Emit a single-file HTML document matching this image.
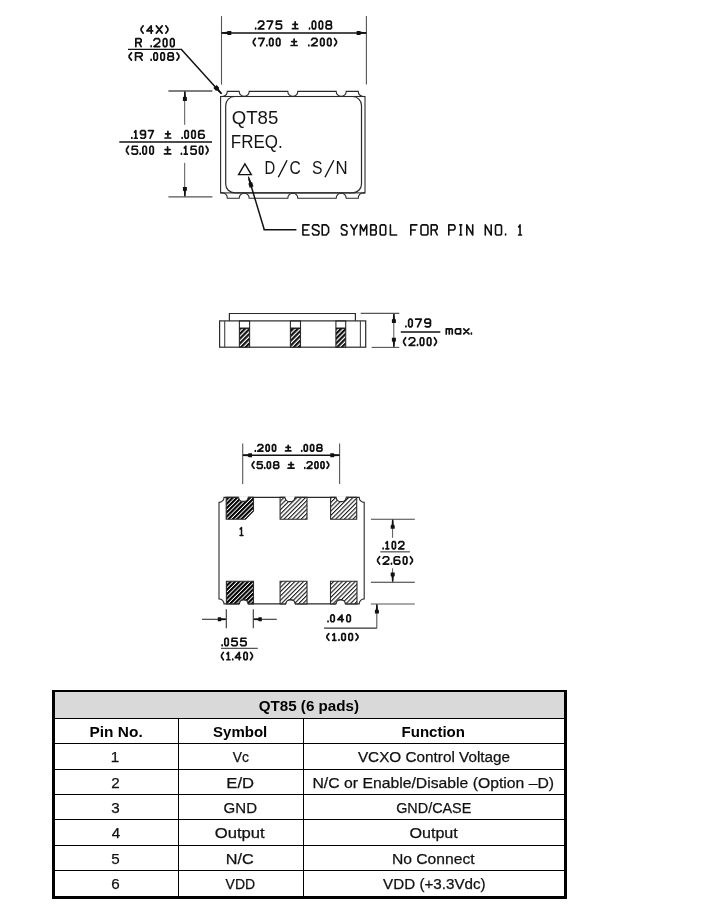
<!DOCTYPE html>
<html><head><meta charset="utf-8"><style>
html,body{margin:0;padding:0;background:#fff;}
body{width:709px;height:911px;overflow:hidden;}
svg{display:block;will-change:transform;}
.ar{font-family:"Liberation Sans",sans-serif;fill:#141414;}
.tr{font-family:"Liberation Sans",sans-serif;fill:#111;stroke:#111;stroke-width:0.25px;}
.tb{font-family:"Liberation Sans",sans-serif;font-weight:bold;fill:#000;}
</style></head><body>
<svg width="709" height="911" viewBox="0 0 709 911">
<defs>
<pattern id="hl" patternUnits="userSpaceOnUse" width="3.05" height="3.05" patternTransform="rotate(45)"><rect width="3.05" height="3.05" fill="#fff"/><rect x="0" y="0" width="1.1" height="3.05" fill="#1a1a1a"/></pattern>
<pattern id="hd" patternUnits="userSpaceOnUse" width="3.05" height="3.05" patternTransform="rotate(45)"><rect width="3.05" height="3.05" fill="#fff"/><rect x="0" y="0" width="2.1" height="3.05" fill="#000"/></pattern>
<pattern id="hs" patternUnits="userSpaceOnUse" width="3.4" height="3.4" patternTransform="rotate(45)"><rect width="3.4" height="3.4" fill="#fff"/><rect x="0" y="0" width="2.2" height="3.4" fill="#111"/></pattern>
</defs>
<line x1="221.50" y1="16.10" x2="221.50" y2="84.60" stroke="#555" stroke-width="1.10"/>
<line x1="366.40" y1="16.10" x2="366.40" y2="84.60" stroke="#555" stroke-width="1.10"/>
<line x1="221.50" y1="32.90" x2="366.40" y2="32.90" stroke="#111" stroke-width="1.50"/>
<polygon points="221.80,32.20 227.03,31.85 227.69,30.90 231.30,30.90 231.30,34.90 227.69,34.90 227.03,33.95 221.80,33.60" fill="#111"/>
<polygon points="366.10,33.60 360.88,33.95 360.21,34.90 356.60,34.90 356.60,30.90 360.21,30.90 360.88,31.85 366.10,32.20" fill="#111"/>
<path d="M255.62,28.17 L255.62,28.95 M258.28,22.71 L259.38,21.15 L262.68,21.15 L263.78,22.45 L263.78,24.27 L258.28,28.95 L263.78,28.95 M267.17,21.15 L272.66,21.15 L269.00,28.95 M281.37,21.15 L276.60,21.15 L276.24,24.62 L277.15,24.10 L280.45,24.10 L281.55,25.14 L281.55,27.91 L280.45,28.95 L277.15,28.95 L276.05,27.91" fill="none" stroke="#111" stroke-width="1.70" stroke-linejoin="round" stroke-linecap="round"/>
<path d="M295.15,21.84 L295.15,27.04 M292.99,24.44 L297.31,24.44 M292.45,28.69 L297.85,28.69" fill="none" stroke="#111" stroke-width="1.70" stroke-linejoin="round" stroke-linecap="round"/>
<path d="M309.53,28.17 L309.53,28.95 M313.12,21.15 L314.78,21.15 L315.70,22.54 L315.70,27.56 L314.78,28.95 L313.12,28.95 L312.20,27.56 L312.20,22.54 Z M320.03,21.15 L321.69,21.15 L322.61,22.54 L322.61,27.56 L321.69,28.95 L320.03,28.95 L319.11,27.56 L319.11,22.54 Z M327.13,24.96 L326.30,24.10 L326.30,22.10 L327.22,21.15 L330.35,21.15 L331.27,22.10 L331.27,24.10 L330.44,24.96 L327.13,24.96 L326.02,26.00 L326.02,27.91 L327.13,28.95 L330.44,28.95 L331.55,27.91 L331.55,26.00 L330.44,24.96" fill="none" stroke="#111" stroke-width="1.70" stroke-linejoin="round" stroke-linecap="round"/>
<path d="M255.26,38.45 L253.33,41.21 L253.33,42.99 L255.26,45.75 M258.67,38.45 L264.20,38.45 L260.51,45.75 M266.87,45.02 L266.87,45.75 M270.46,38.45 L272.12,38.45 L273.04,39.75 L273.04,44.45 L272.12,45.75 L270.46,45.75 L269.54,44.45 L269.54,39.75 Z M277.37,38.45 L279.03,38.45 L279.95,39.75 L279.95,44.45 L279.03,45.75 L277.37,45.75 L276.45,44.45 L276.45,39.75 Z" fill="none" stroke="#111" stroke-width="1.70" stroke-linejoin="round" stroke-linecap="round"/>
<path d="M294.10,39.10 L294.10,43.97 M291.66,41.53 L296.54,41.53 M291.05,45.51 L297.15,45.51" fill="none" stroke="#111" stroke-width="1.70" stroke-linejoin="round" stroke-linecap="round"/>
<path d="M308.83,45.02 L308.83,45.75 M311.53,39.91 L312.65,38.45 L316.00,38.45 L317.11,39.67 L317.11,41.37 L311.53,45.75 L317.11,45.75 M321.49,38.45 L323.16,38.45 L324.09,39.75 L324.09,44.45 L323.16,45.75 L321.49,45.75 L320.56,44.45 L320.56,39.75 Z M328.47,38.45 L330.14,38.45 L331.07,39.75 L331.07,44.45 L330.14,45.75 L328.47,45.75 L327.54,44.45 L327.54,39.75 Z M334.52,38.45 L336.47,41.21 L336.47,42.99 L334.52,45.75" fill="none" stroke="#111" stroke-width="1.70" stroke-linejoin="round" stroke-linecap="round"/>
<path d="M143.20,25.85 L141.14,28.61 L141.14,30.39 L143.20,33.15 M151.22,33.15 L151.22,25.85 L146.82,30.96 L152.69,30.96 M156.31,25.85 L162.18,33.15 M162.18,25.85 L156.31,33.15 M165.80,25.85 L167.86,28.61 L167.86,30.39 L165.80,33.15" fill="none" stroke="#111" stroke-width="1.70" stroke-linejoin="round" stroke-linecap="round"/>
<path d="M135.85,46.55 L135.85,38.65 L140.09,38.65 L141.15,39.70 L141.15,41.55 L140.09,42.60 L135.85,42.60 M138.94,42.60 L141.15,46.55" fill="none" stroke="#111" stroke-width="1.70" stroke-linejoin="round" stroke-linecap="round"/>
<path d="M151.14,45.76 L151.14,46.55 M153.93,40.23 L155.09,38.65 L158.55,38.65 L159.71,39.97 L159.71,41.81 L153.93,46.55 L159.71,46.55 M164.23,38.65 L165.97,38.65 L166.93,40.05 L166.93,45.15 L165.97,46.55 L164.23,46.55 L163.27,45.15 L163.27,40.05 Z M171.45,38.65 L173.19,38.65 L174.15,40.05 L174.15,45.15 L173.19,46.55 L171.45,46.55 L170.49,45.15 L170.49,40.05 Z" fill="none" stroke="#111" stroke-width="1.70" stroke-linejoin="round" stroke-linecap="round"/>
<line x1="128.00" y1="49.30" x2="181.00" y2="49.30" stroke="#111" stroke-width="1.20"/>
<path d="M131.49,52.85 L129.18,55.61 L129.18,57.39 L131.49,60.15 M135.55,60.15 L135.55,52.85 L140.83,52.85 L142.15,53.82 L142.15,55.53 L140.83,56.50 L135.55,56.50 M139.40,56.50 L142.15,60.15" fill="none" stroke="#111" stroke-width="1.70" stroke-linejoin="round" stroke-linecap="round"/>
<path d="M151.13,59.42 L151.13,60.15 M154.77,52.85 L156.45,52.85 L157.39,54.15 L157.39,58.85 L156.45,60.15 L154.77,60.15 L153.84,58.85 L153.84,54.15 Z M161.78,52.85 L163.46,52.85 L164.39,54.15 L164.39,58.85 L163.46,60.15 L161.78,60.15 L160.84,58.85 L160.84,54.15 Z M168.97,56.42 L168.13,55.61 L168.13,53.74 L169.06,52.85 L172.24,52.85 L173.17,53.74 L173.17,55.61 L172.33,56.42 L168.97,56.42 L167.85,57.39 L167.85,59.18 L168.97,60.15 L172.33,60.15 L173.45,59.18 L173.45,57.39 L172.33,56.42 M176.91,52.85 L178.87,55.61 L178.87,57.39 L176.91,60.15" fill="none" stroke="#111" stroke-width="1.70" stroke-linejoin="round" stroke-linecap="round"/>
<line x1="181.00" y1="49.00" x2="221.20" y2="93.40" stroke="#111" stroke-width="1.50"/>
<polygon points="221.26,94.30 217.23,90.53 215.91,90.78 213.35,87.97 216.61,85.01 219.17,87.83 218.78,89.12 222.14,93.50" fill="#111"/>
<line x1="168.40" y1="91.00" x2="212.40" y2="91.00" stroke="#555" stroke-width="1.30"/>
<line x1="168.40" y1="196.80" x2="212.40" y2="196.80" stroke="#555" stroke-width="1.30"/>
<line x1="184.70" y1="91.00" x2="184.70" y2="124.80" stroke="#555" stroke-width="1.00"/>
<line x1="184.70" y1="162.90" x2="184.70" y2="196.80" stroke="#555" stroke-width="1.00"/>
<polygon points="185.60,91.60 185.95,96.71 186.90,97.37 186.90,100.90 182.90,100.90 182.90,97.37 183.85,96.71 184.20,91.60" fill="#111"/>
<polygon points="184.20,196.20 183.85,191.08 182.90,190.43 182.90,186.90 186.90,186.90 186.90,190.43 185.95,191.08 185.60,196.20" fill="#111"/>
<line x1="119.30" y1="142.00" x2="212.00" y2="142.00" stroke="#111" stroke-width="1.50"/>
<path d="M131.80,137.48 L131.80,138.25 M134.50,132.09 L135.81,130.55 L135.81,138.25 M134.42,138.25 L137.20,138.25 M140.89,137.74 L141.63,138.25 L144.25,138.25 L145.40,136.88 L145.40,131.75 L144.42,130.55 L141.47,130.55 L140.48,131.75 L140.48,133.46 L141.47,134.57 L144.42,134.57 L145.40,133.46 M148.43,130.55 L153.35,130.55 L150.07,138.25" fill="none" stroke="#111" stroke-width="1.70" stroke-linejoin="round" stroke-linecap="round"/>
<path d="M167.90,131.23 L167.90,136.37 M165.62,133.80 L170.18,133.80 M165.05,137.99 L170.75,137.99" fill="none" stroke="#111" stroke-width="1.70" stroke-linejoin="round" stroke-linecap="round"/>
<path d="M182.13,137.48 L182.13,138.25 M185.74,130.55 L187.40,130.55 L188.33,131.92 L188.33,136.88 L187.40,138.25 L185.74,138.25 L184.81,136.88 L184.81,131.92 Z M192.68,130.55 L194.35,130.55 L195.27,131.92 L195.27,136.88 L194.35,138.25 L192.68,138.25 L191.75,136.88 L191.75,131.92 Z M203.79,131.06 L202.95,130.55 L199.99,130.55 L198.70,131.92 L198.70,137.05 L199.81,138.25 L203.14,138.25 L204.25,137.05 L204.25,135.34 L203.14,134.23 L199.81,134.23 L198.70,135.34" fill="none" stroke="#111" stroke-width="1.70" stroke-linejoin="round" stroke-linecap="round"/>
<path d="M128.48,146.25 L126.53,149.23 L126.53,151.17 L128.48,154.15 M137.29,146.25 L132.47,146.25 L132.10,149.76 L133.02,149.23 L136.37,149.23 L137.48,150.29 L137.48,153.10 L136.37,154.15 L133.02,154.15 L131.91,153.10 M140.17,153.36 L140.17,154.15 M143.79,146.25 L145.46,146.25 L146.39,147.65 L146.39,152.75 L145.46,154.15 L143.79,154.15 L142.86,152.75 L142.86,147.65 Z M150.75,146.25 L152.42,146.25 L153.35,147.65 L153.35,152.75 L152.42,154.15 L150.75,154.15 L149.82,152.75 L149.82,147.65 Z" fill="none" stroke="#111" stroke-width="1.70" stroke-linejoin="round" stroke-linecap="round"/>
<path d="M167.60,146.95 L167.60,152.22 M165.08,149.59 L170.12,149.59 M164.45,153.89 L170.75,153.89" fill="none" stroke="#111" stroke-width="1.70" stroke-linejoin="round" stroke-linecap="round"/>
<path d="M181.42,153.36 L181.42,154.15 M184.35,147.83 L185.77,146.25 L185.77,154.15 M184.26,154.15 L187.28,154.15 M195.99,146.25 L191.37,146.25 L191.01,149.76 L191.90,149.23 L195.10,149.23 L196.17,150.29 L196.17,153.10 L195.10,154.15 L191.90,154.15 L190.83,153.10 M200.34,146.25 L201.94,146.25 L202.83,147.65 L202.83,152.75 L201.94,154.15 L200.34,154.15 L199.45,152.75 L199.45,147.65 Z M206.12,146.25 L207.98,149.23 L207.98,151.17 L206.12,154.15" fill="none" stroke="#111" stroke-width="1.70" stroke-linejoin="round" stroke-linecap="round"/>
<rect x="220.60" y="96.50" width="144.40" height="96.40" fill="none" stroke="#2a2a2a" stroke-width="1.1"/>
<path d="M225.70,183.90 L225.70,105.50 A9.0,9.0 0 0 1 234.70,96.50 L352.50,96.50 A9.0,9.0 0 0 1 361.50,105.50 L361.50,183.90 A9.0,9.0 0 0 1 352.50,192.90 L234.70,192.90 A9.0,9.0 0 0 1 225.70,183.90 Z" fill="none" stroke="#2a2a2a" stroke-width="1.2"/>
<path d="M220.60,96.50 L222.3,96.50 A5,5 0 0 0 227.3,91.40 L239.20,91.40 A5,5 0 0 0 249.20,91.40 L287.80,91.40 A5,5 0 0 0 297.80,91.40 L336.20,91.40 A5,5 0 0 0 346.20,91.40 L358.3,91.40 A5,5 0 0 0 363.3,96.50 L365.00,96.50" fill="none" stroke="#2a2a2a" stroke-width="1.1"/>
<path d="M220.60,192.90 L222.3,192.90 A5,5 0 0 1 227.3,198.20 L239.20,198.20 A5,5 0 0 1 249.20,198.20 L287.80,198.20 A5,5 0 0 1 297.80,198.20 L336.20,198.20 A5,5 0 0 1 346.20,198.20 L358.3,198.20 A5,5 0 0 1 363.3,192.90 L365.00,192.90" fill="none" stroke="#2a2a2a" stroke-width="1.1"/>
<line x1="278.30" y1="177.30" x2="287.10" y2="160.20" stroke="#111" stroke-width="1.40"/>
<line x1="325.00" y1="177.30" x2="333.80" y2="160.20" stroke="#111" stroke-width="1.40"/>
<polygon points="238.6,174.6 251.3,174.6 244.9,163.8" fill="none" stroke="#111" stroke-width="1.4" stroke-linejoin="miter"/>
<line x1="248.90" y1="178.50" x2="264.30" y2="229.80" stroke="#111" stroke-width="1.50"/>
<line x1="263.60" y1="229.80" x2="296.40" y2="229.80" stroke="#111" stroke-width="1.50"/>
<polygon points="248.88,176.46 251.14,182.10 252.27,182.56 253.46,186.57 249.63,187.71 248.43,183.71 249.12,182.70 247.92,176.74" fill="#111"/>
<path d="M309.10,224.90 L302.90,224.90 L302.90,235.00 L309.10,235.00 M302.90,229.95 L307.55,229.95 M319.00,226.47 L317.92,224.90 L313.58,224.90 L312.50,226.47 L312.50,228.49 L319.00,231.41 L319.00,233.43 L317.92,235.00 L313.58,235.00 L312.50,233.43 M322.20,224.90 L322.20,235.00 L326.25,235.00 L328.60,232.31 L328.60,227.59 L326.25,224.90 Z M347.00,226.47 L346.07,224.90 L342.33,224.90 L341.40,226.47 L341.40,228.49 L347.00,231.41 L347.00,233.43 L346.07,235.00 L342.33,235.00 L341.40,233.43 M350.80,224.90 L354.00,229.95 L357.20,224.90 M354.00,229.95 L354.00,235.00 M360.40,235.00 L360.40,224.90 L363.55,231.07 L366.70,224.90 L366.70,235.00 M370.70,224.90 L370.70,235.00 L375.10,235.00 L376.20,233.65 L376.20,231.30 L375.10,229.95 L370.70,229.95 M375.10,229.95 L376.20,228.60 L376.20,226.25 L375.10,224.90 L370.70,224.90 M381.12,224.90 L384.78,224.90 L385.70,226.02 L385.70,233.88 L384.78,235.00 L381.12,235.00 L380.20,233.88 L380.20,226.02 Z M390.40,224.90 L390.40,235.00 L396.70,235.00 M416.90,224.90 L410.80,224.90 L410.80,235.00 M410.80,229.95 L415.38,229.95 M422.15,224.90 L426.75,224.90 L427.90,226.02 L427.90,233.88 L426.75,235.00 L422.15,235.00 L421.00,233.88 L421.00,226.02 Z M431.20,235.00 L431.20,224.90 L436.00,224.90 L437.20,226.25 L437.20,228.60 L436.00,229.95 L431.20,229.95 M434.70,229.95 L437.20,235.00 M448.80,235.00 L448.80,224.90 L453.76,224.90 L455.00,226.25 L455.00,228.60 L453.76,229.95 L448.80,229.95 M459.80,224.90 L461.70,224.90 M460.75,224.90 L460.75,235.00 M459.80,235.00 L461.70,235.00 M466.80,235.00 L466.80,224.90 L472.70,235.00 L472.70,224.90 M485.30,235.00 L485.30,224.90 L491.20,235.00 L491.20,224.90 M496.50,224.90 L500.50,224.90 L501.50,226.02 L501.50,233.88 L500.50,235.00 L496.50,235.00 L495.50,233.88 L495.50,226.02 Z M505.60,233.99 L505.60,235.00 M518.65,226.92 L520.05,224.90 L520.05,235.00 M518.56,235.00 L521.54,235.00" fill="none" stroke="#111" stroke-width="1.60" stroke-linejoin="round" stroke-linecap="round"/>
<path d="M229.4,320.9 L229.4,313.5 L355.4,313.5 L355.4,320.9" fill="none" stroke="#2a2a2a" stroke-width="1.2"/>
<rect x="219.6" y="320.9" width="146.1" height="26.3" fill="none" stroke="#2a2a2a" stroke-width="1.2"/>
<line x1="224.70" y1="320.90" x2="224.70" y2="347.20" stroke="#444" stroke-width="1.10"/>
<line x1="360.40" y1="320.90" x2="360.40" y2="347.20" stroke="#444" stroke-width="1.10"/>
<rect x="239.40" y="328.2" width="10.20" height="19.0" fill="url(#hs)"/>
<rect x="239.40" y="320.9" width="10.20" height="26.3" fill="none" stroke="#2a2a2a" stroke-width="1.1"/>
<line x1="239.40" y1="328.20" x2="249.60" y2="328.20" stroke="#111" stroke-width="1.30"/>
<rect x="290.40" y="328.2" width="10.10" height="19.0" fill="url(#hs)"/>
<rect x="290.40" y="320.9" width="10.10" height="26.3" fill="none" stroke="#2a2a2a" stroke-width="1.1"/>
<line x1="290.40" y1="328.20" x2="300.50" y2="328.20" stroke="#111" stroke-width="1.30"/>
<rect x="335.90" y="328.2" width="9.80" height="19.0" fill="url(#hs)"/>
<rect x="335.90" y="320.9" width="9.80" height="26.3" fill="none" stroke="#2a2a2a" stroke-width="1.1"/>
<line x1="335.90" y1="328.20" x2="345.70" y2="328.20" stroke="#111" stroke-width="1.30"/>
<line x1="360.70" y1="313.40" x2="399.30" y2="313.40" stroke="#555" stroke-width="1.10"/>
<line x1="371.60" y1="347.40" x2="399.30" y2="347.40" stroke="#555" stroke-width="1.10"/>
<line x1="393.80" y1="313.40" x2="393.80" y2="347.40" stroke="#555" stroke-width="1.00"/>
<polygon points="394.60,314.00 394.95,318.95 395.90,319.58 395.90,323.00 391.90,323.00 391.90,319.58 392.85,318.95 393.20,314.00" fill="#111"/>
<polygon points="393.20,346.80 392.85,341.85 391.90,341.22 391.90,337.80 395.90,337.80 395.90,341.22 394.95,341.85 394.60,346.80" fill="#111"/>
<line x1="400.80" y1="332.10" x2="440.30" y2="332.10" stroke="#111" stroke-width="1.50"/>
<path d="M405.93,326.08 L405.93,326.85 M409.60,319.15 L411.29,319.15 L412.23,320.52 L412.23,325.48 L411.29,326.85 L409.60,326.85 L408.66,325.48 L408.66,320.52 Z M415.70,319.15 L421.34,319.15 L417.58,326.85 M425.28,326.34 L426.13,326.85 L429.13,326.85 L430.45,325.48 L430.45,320.35 L429.32,319.15 L425.94,319.15 L424.81,320.35 L424.81,322.06 L425.94,323.17 L429.32,323.17 L430.45,322.06" fill="none" stroke="#111" stroke-width="1.70" stroke-linejoin="round" stroke-linecap="round"/>
<path d="M405.61,337.75 L403.63,340.66 L403.63,342.54 L405.61,345.45 M409.10,339.29 L410.24,337.75 L413.63,337.75 L414.76,339.03 L414.76,340.83 L409.10,345.45 L414.76,345.45 M417.50,344.68 L417.50,345.45 M421.18,337.75 L422.88,337.75 L423.82,339.12 L423.82,344.08 L422.88,345.45 L421.18,345.45 L420.24,344.08 L420.24,339.12 Z M428.25,337.75 L429.95,337.75 L430.90,339.12 L430.90,344.08 L429.95,345.45 L428.25,345.45 L427.31,344.08 L427.31,339.12 Z M434.39,337.75 L436.37,340.66 L436.37,342.54 L434.39,345.45" fill="none" stroke="#111" stroke-width="1.70" stroke-linejoin="round" stroke-linecap="round"/>
<path d="M446.25,333.95 L446.25,328.82 M446.25,329.67 L446.94,328.82 L448.57,328.82 L449.25,329.67 L449.25,333.95 M449.25,329.67 L449.94,328.82 L451.57,328.82 L452.26,329.67 L452.26,333.95 M460.58,328.82 L460.58,333.95 M460.58,329.84 L459.55,328.82 L456.46,328.82 L455.43,329.84 L455.43,332.92 L456.46,333.95 L459.55,333.95 L460.58,332.92 M463.76,328.82 L468.90,333.95 M468.90,328.82 L463.76,333.95 M471.39,333.18 L471.39,333.95" fill="none" stroke="#111" stroke-width="1.70" stroke-linejoin="round" stroke-linecap="round"/>
<line x1="242.70" y1="443.50" x2="242.70" y2="484.00" stroke="#555" stroke-width="1.10"/>
<line x1="339.60" y1="443.50" x2="339.60" y2="484.00" stroke="#555" stroke-width="1.10"/>
<line x1="242.70" y1="455.30" x2="339.60" y2="455.30" stroke="#111" stroke-width="1.40"/>
<polygon points="243.00,454.60 247.95,454.25 248.58,453.30 252.00,453.30 252.00,457.30 248.58,457.30 247.95,456.35 243.00,456.00" fill="#111"/>
<polygon points="339.30,456.00 334.35,456.35 333.72,457.30 330.30,457.30 330.30,453.30 333.72,453.30 334.35,454.25 339.30,454.60" fill="#111"/>
<path d="M255.31,450.50 L255.31,451.15 M257.77,445.95 L258.80,444.65 L261.86,444.65 L262.88,445.73 L262.88,447.25 L257.77,451.15 L262.88,451.15 M266.88,444.65 L268.41,444.65 L269.27,445.81 L269.27,449.99 L268.41,451.15 L266.88,451.15 L266.03,449.99 L266.03,445.81 Z M273.27,444.65 L274.80,444.65 L275.65,445.81 L275.65,449.99 L274.80,451.15 L273.27,451.15 L272.42,449.99 L272.42,445.81 Z" fill="none" stroke="#111" stroke-width="1.70" stroke-linejoin="round" stroke-linecap="round"/>
<path d="M288.20,445.23 L288.20,449.56 M286.08,447.39 L290.32,447.39 M285.55,450.93 L290.85,450.93" fill="none" stroke="#111" stroke-width="1.70" stroke-linejoin="round" stroke-linecap="round"/>
<path d="M301.70,450.50 L301.70,451.15 M305.01,444.65 L306.53,444.65 L307.38,445.81 L307.38,449.99 L306.53,451.15 L305.01,451.15 L304.16,449.99 L304.16,445.81 Z M311.36,444.65 L312.89,444.65 L313.73,445.81 L313.73,449.99 L312.89,451.15 L311.36,451.15 L310.51,449.99 L310.51,445.81 Z M317.88,447.83 L317.12,447.11 L317.12,445.44 L317.97,444.65 L320.85,444.65 L321.70,445.44 L321.70,447.11 L320.93,447.83 L317.88,447.83 L316.87,448.69 L316.87,450.28 L317.88,451.15 L320.93,451.15 L321.95,450.28 L321.95,448.69 L320.93,447.83" fill="none" stroke="#111" stroke-width="1.70" stroke-linejoin="round" stroke-linecap="round"/>
<path d="M254.00,461.75 L252.21,464.24 L252.21,465.86 L254.00,468.35 M262.11,461.75 L257.67,461.75 L257.33,464.68 L258.18,464.24 L261.25,464.24 L262.28,465.12 L262.28,467.47 L261.25,468.35 L258.18,468.35 L257.16,467.47 M264.75,467.69 L264.75,468.35 M268.08,461.75 L269.62,461.75 L270.47,462.92 L270.47,467.18 L269.62,468.35 L268.08,468.35 L267.23,467.18 L267.23,462.92 Z M274.65,464.98 L273.89,464.24 L273.89,462.56 L274.74,461.75 L277.64,461.75 L278.49,462.56 L278.49,464.24 L277.73,464.98 L274.65,464.98 L273.63,465.86 L273.63,467.47 L274.65,468.35 L277.73,468.35 L278.75,467.47 L278.75,465.86 L277.73,464.98" fill="none" stroke="#111" stroke-width="1.70" stroke-linejoin="round" stroke-linecap="round"/>
<path d="M291.05,462.34 L291.05,466.74 M288.65,464.54 L293.45,464.54 M288.05,468.13 L294.05,468.13" fill="none" stroke="#111" stroke-width="1.70" stroke-linejoin="round" stroke-linecap="round"/>
<path d="M304.79,467.69 L304.79,468.35 M307.13,463.07 L308.09,461.75 L310.99,461.75 L311.96,462.85 L311.96,464.39 L307.13,468.35 L311.96,468.35 M315.74,461.75 L317.19,461.75 L318.00,462.92 L318.00,467.18 L317.19,468.35 L315.74,468.35 L314.94,467.18 L314.94,462.92 Z M321.78,461.75 L323.23,461.75 L324.04,462.92 L324.04,467.18 L323.23,468.35 L321.78,468.35 L320.98,467.18 L320.98,462.92 Z M327.02,461.75 L328.71,464.24 L328.71,465.86 L327.02,468.35" fill="none" stroke="#111" stroke-width="1.70" stroke-linejoin="round" stroke-linecap="round"/>
<path d="M219,502.4 A5,5 0 0 0 224,497.4 L359.2,497.4 A5,5 0 0 0 364.2,502.4 L364.2,598.9 A5,5 0 0 0 359.2,603.9 L224,603.9 A5,5 0 0 0 219,598.9 Z" fill="none" stroke="#2a2a2a" stroke-width="1.1"/>
<path d="M226.20,497.4 L238.70,497.4 A4.70,4.00 0 0 0 248.10,497.4 L253.50,497.4 L253.50,511.0 L245.50,519.3 L226.20,519.3 Z" fill="url(#hd)" stroke="#2a2a2a" stroke-width="1.1"/><path d="M239.00,496.3 L238.70,497.4 A4.70,4.00 0 0 0 248.10,497.4 L247.80,496.3 Z" fill="#fff"/><path d="M238.70,497.4 A4.70,4.00 0 0 0 248.10,497.4" fill="none" stroke="#2a2a2a" stroke-width="1.2"/>
<path d="M280.10,497.4 L285.15,497.4 A4.85,4.20 0 0 0 294.85,497.4 L307.00,497.4 L307.00,519.3 L280.10,519.3 Z" fill="url(#hl)" stroke="#2a2a2a" stroke-width="1.1"/><path d="M285.45,496.3 L285.15,497.4 A4.85,4.20 0 0 0 294.85,497.4 L294.55,496.3 Z" fill="#fff"/><path d="M285.15,497.4 A4.85,4.20 0 0 0 294.85,497.4" fill="none" stroke="#2a2a2a" stroke-width="1.2"/>
<path d="M330.60,497.4 L336.30,497.4 A4.90,4.20 0 0 0 346.10,497.4 L356.70,497.4 L356.70,519.3 L330.60,519.3 Z" fill="url(#hl)" stroke="#2a2a2a" stroke-width="1.1"/><path d="M336.60,496.3 L336.30,497.4 A4.90,4.20 0 0 0 346.10,497.4 L345.80,496.3 Z" fill="#fff"/><path d="M336.30,497.4 A4.90,4.20 0 0 0 346.10,497.4" fill="none" stroke="#2a2a2a" stroke-width="1.2"/>
<path d="M226.40,581.3 L253.50,581.3 L253.50,603.9 L248.00,603.9 A4.30,4.00 0 0 0 239.40,603.9 L226.40,603.9 Z" fill="url(#hd)" stroke="#2a2a2a" stroke-width="1.1"/><path d="M247.70,605.0 L248.00,603.9 A4.30,4.00 0 0 0 239.40,603.9 L239.70,605.0 Z" fill="#fff"/><path d="M248.00,603.9 A4.30,4.00 0 0 0 239.40,603.9" fill="none" stroke="#2a2a2a" stroke-width="1.2"/>
<path d="M280.10,581.3 L307.00,581.3 L307.00,603.9 L295.10,603.9 A4.60,4.00 0 0 0 285.90,603.9 L280.10,603.9 Z" fill="url(#hl)" stroke="#2a2a2a" stroke-width="1.1"/><path d="M294.80,605.0 L295.10,603.9 A4.60,4.00 0 0 0 285.90,603.9 L286.20,605.0 Z" fill="#fff"/><path d="M295.10,603.9 A4.60,4.00 0 0 0 285.90,603.9" fill="none" stroke="#2a2a2a" stroke-width="1.2"/>
<path d="M330.50,581.3 L357.00,581.3 L357.00,603.9 L345.30,603.9 A4.60,4.00 0 0 0 336.10,603.9 L330.50,603.9 Z" fill="url(#hl)" stroke="#2a2a2a" stroke-width="1.1"/><path d="M345.00,605.0 L345.30,603.9 A4.60,4.00 0 0 0 336.10,603.9 L336.40,605.0 Z" fill="#fff"/><path d="M345.30,603.9 A4.60,4.00 0 0 0 336.10,603.9" fill="none" stroke="#2a2a2a" stroke-width="1.2"/>
<path d="M240.10,529.07 L241.50,527.45 L241.50,535.55 M240.01,535.55 L242.99,535.55" fill="none" stroke="#111" stroke-width="1.50" stroke-linejoin="round" stroke-linecap="round"/>
<line x1="370.90" y1="519.20" x2="414.80" y2="519.20" stroke="#444" stroke-width="1.10"/>
<line x1="370.90" y1="582.20" x2="414.80" y2="582.20" stroke="#333" stroke-width="1.10"/>
<line x1="370.90" y1="604.00" x2="414.80" y2="604.00" stroke="#555" stroke-width="1.10"/>
<line x1="392.60" y1="519.20" x2="392.60" y2="537.80" stroke="#555" stroke-width="1.00"/>
<line x1="392.60" y1="568.30" x2="392.60" y2="582.20" stroke="#555" stroke-width="1.00"/>
<polygon points="393.40,519.80 393.75,524.75 394.70,525.38 394.70,528.80 390.70,528.80 390.70,525.38 391.65,524.75 392.00,519.80" fill="#111"/>
<polygon points="392.00,581.60 391.65,576.65 390.70,576.02 390.70,572.60 394.70,572.60 394.70,576.02 393.75,576.65 393.40,581.60" fill="#111"/>
<line x1="380.30" y1="551.80" x2="409.90" y2="551.80" stroke="#666" stroke-width="1.40"/>
<path d="M383.11,548.12 L383.11,548.85 M385.95,543.01 L387.33,541.55 L387.33,548.85 M385.86,548.85 L388.79,548.85 M393.09,541.55 L394.64,541.55 L395.50,542.85 L395.50,547.55 L394.64,548.85 L393.09,548.85 L392.23,547.55 L392.23,542.85 Z M398.69,543.01 L399.72,541.55 L402.82,541.55 L403.85,542.77 L403.85,544.47 L398.69,548.85 L403.85,548.85" fill="none" stroke="#111" stroke-width="1.70" stroke-linejoin="round" stroke-linecap="round"/>
<path d="M379.61,556.75 L377.63,559.51 L377.63,561.29 L379.61,564.05 M383.09,558.21 L384.22,556.75 L387.61,556.75 L388.74,557.97 L388.74,559.67 L383.09,564.05 L388.74,564.05 M391.47,563.32 L391.47,564.05 M399.38,557.24 L398.53,556.75 L395.52,556.75 L394.20,558.05 L394.20,562.91 L395.33,564.05 L398.72,564.05 L399.85,562.91 L399.85,561.29 L398.72,560.24 L395.33,560.24 L394.20,561.29 M404.27,556.75 L405.97,556.75 L406.91,558.05 L406.91,562.75 L405.97,564.05 L404.27,564.05 L403.33,562.75 L403.33,558.05 Z M410.39,556.75 L412.37,559.51 L412.37,561.29 L410.39,564.05" fill="none" stroke="#111" stroke-width="1.70" stroke-linejoin="round" stroke-linecap="round"/>
<line x1="376.80" y1="604.00" x2="376.80" y2="628.20" stroke="#555" stroke-width="1.10"/>
<line x1="324.10" y1="628.20" x2="376.80" y2="628.20" stroke="#333" stroke-width="1.30"/>
<polygon points="377.60,604.60 377.95,609.55 378.90,610.18 378.90,613.60 374.90,613.60 374.90,610.18 375.85,609.55 376.20,604.60" fill="#111"/>
<path d="M328.03,621.07 L328.03,621.75 M331.67,614.95 L333.35,614.95 L334.29,616.16 L334.29,620.54 L333.35,621.75 L331.67,621.75 L330.74,620.54 L330.74,616.16 Z M341.95,621.75 L341.95,614.95 L337.74,619.71 L343.35,619.71 M347.74,614.95 L349.42,614.95 L350.35,616.16 L350.35,620.54 L349.42,621.75 L347.74,621.75 L346.80,620.54 L346.80,616.16 Z" fill="none" stroke="#111" stroke-width="1.70" stroke-linejoin="round" stroke-linecap="round"/>
<path d="M328.93,633.55 L326.93,636.12 L326.93,637.78 L328.93,640.35 M332.82,634.91 L334.34,633.55 L334.34,640.35 M332.72,640.35 L335.95,640.35 M338.99,639.67 L338.99,640.35 M342.69,633.55 L344.40,633.55 L345.34,634.76 L345.34,639.14 L344.40,640.35 L342.69,640.35 L341.74,639.14 L341.74,634.76 Z M349.80,633.55 L351.51,633.55 L352.46,634.76 L352.46,639.14 L351.51,640.35 L349.80,640.35 L348.86,639.14 L348.86,634.76 Z M355.97,633.55 L357.97,636.12 L357.97,637.78 L355.97,640.35" fill="none" stroke="#111" stroke-width="1.70" stroke-linejoin="round" stroke-linecap="round"/>
<line x1="226.30" y1="609.20" x2="226.30" y2="628.20" stroke="#333" stroke-width="1.10"/>
<line x1="253.30" y1="609.20" x2="253.30" y2="628.20" stroke="#333" stroke-width="1.10"/>
<line x1="202.00" y1="619.30" x2="226.30" y2="619.30" stroke="#333" stroke-width="1.10"/>
<line x1="253.30" y1="619.30" x2="276.80" y2="619.30" stroke="#333" stroke-width="1.10"/>
<polygon points="225.80,620.00 221.40,620.35 220.84,621.30 217.80,621.30 217.80,617.30 220.84,617.30 221.40,618.25 225.80,618.60" fill="#111"/>
<polygon points="253.80,618.60 258.20,618.25 258.76,617.30 261.80,617.30 261.80,621.30 258.76,621.30 258.20,620.35 253.80,620.00" fill="#111"/>
<line x1="221.00" y1="648.40" x2="257.80" y2="648.40" stroke="#555" stroke-width="1.30"/>
<path d="M222.13,644.91 L222.13,645.65 M225.72,638.25 L227.37,638.25 L228.29,639.57 L228.29,644.33 L227.37,645.65 L225.72,645.65 L224.80,644.33 L224.80,639.57 Z M237.04,638.25 L232.25,638.25 L231.88,641.54 L232.80,641.05 L236.12,641.05 L237.22,642.03 L237.22,644.66 L236.12,645.65 L232.80,645.65 L231.70,644.66 M245.97,638.25 L241.18,638.25 L240.81,641.54 L241.73,641.05 L245.05,641.05 L246.15,642.03 L246.15,644.66 L245.05,645.65 L241.73,645.65 L240.63,644.66" fill="none" stroke="#111" stroke-width="1.70" stroke-linejoin="round" stroke-linecap="round"/>
<path d="M223.37,652.35 L221.52,655.15 L221.52,656.95 L223.37,659.75 M227.00,653.83 L228.41,652.35 L228.41,659.75 M226.91,659.75 L229.92,659.75 M232.75,659.01 L232.75,659.75 M239.29,659.75 L239.29,652.35 L235.31,657.53 L240.62,657.53 M244.78,652.35 L246.37,652.35 L247.25,653.67 L247.25,658.43 L246.37,659.75 L244.78,659.75 L243.89,658.43 L243.89,653.67 Z M250.53,652.35 L252.38,655.15 L252.38,656.95 L250.53,659.75" fill="none" stroke="#111" stroke-width="1.70" stroke-linejoin="round" stroke-linecap="round"/>
<rect x="55" y="692" width="509" height="26" fill="#d9d9d9"/>
<rect x="52" y="690" width="515" height="2" fill="#000"/>
<rect x="52" y="896" width="515" height="3" fill="#000"/>
<rect x="52" y="690" width="3" height="209" fill="#000"/>
<rect x="564" y="690" width="3" height="209" fill="#000"/>
<rect x="55" y="718" width="509" height="1" fill="#000"/>
<rect x="55" y="743" width="509" height="1" fill="#000"/>
<rect x="55" y="769" width="509" height="1" fill="#000"/>
<rect x="55" y="794" width="509" height="1" fill="#000"/>
<rect x="55" y="819" width="509" height="1" fill="#000"/>
<rect x="55" y="845" width="509" height="1" fill="#000"/>
<rect x="55" y="870" width="509" height="1" fill="#000"/>
<rect x="178" y="718" width="1" height="178" fill="#000"/>
<rect x="303" y="718" width="1" height="178" fill="#000"/>
<text x="258.70" y="710.60" font-size="15.2" textLength="100.30" lengthAdjust="spacingAndGlyphs" class="tb">QT85 (6 pads)</text>
<text x="89.50" y="736.90" font-size="15.2" textLength="53.20" lengthAdjust="spacingAndGlyphs" class="tb">Pin No.</text>
<text x="213.10" y="736.90" font-size="15.2" textLength="54.20" lengthAdjust="spacingAndGlyphs" class="tb">Symbol</text>
<text x="401.50" y="736.90" font-size="15.2" textLength="63.50" lengthAdjust="spacingAndGlyphs" class="tb">Function</text>
<text x="110.70" y="762.00" font-size="15.2" class="tr">1</text>
<text x="232.70" y="762.00" font-size="15.2" textLength="16.20" lengthAdjust="spacingAndGlyphs" class="tr">Vc</text>
<text x="357.90" y="762.00" font-size="15.2" textLength="152.20" lengthAdjust="spacingAndGlyphs" class="tr">VCXO Control Voltage</text>
<text x="111.20" y="787.50" font-size="15.2" class="tr">2</text>
<text x="226.30" y="787.50" font-size="15.2" textLength="27.70" lengthAdjust="spacingAndGlyphs" class="tr">E/D</text>
<text x="312.50" y="787.50" font-size="15.2" textLength="241.60" lengthAdjust="spacingAndGlyphs" class="tr">N/C or Enable/Disable (Option –D)</text>
<text x="111.20" y="812.70" font-size="15.2" class="tr">3</text>
<text x="223.60" y="812.70" font-size="15.2" textLength="33.40" lengthAdjust="spacingAndGlyphs" class="tr">GND</text>
<text x="396.20" y="812.70" font-size="15.2" textLength="75.10" lengthAdjust="spacingAndGlyphs" class="tr">GND/CASE</text>
<text x="111.70" y="838.10" font-size="15.2" class="tr">4</text>
<text x="214.70" y="838.10" font-size="15.2" textLength="50.00" lengthAdjust="spacingAndGlyphs" class="tr">Output</text>
<text x="409.40" y="838.10" font-size="15.2" textLength="48.40" lengthAdjust="spacingAndGlyphs" class="tr">Output</text>
<text x="111.20" y="863.50" font-size="15.2" class="tr">5</text>
<text x="225.70" y="863.50" font-size="15.2" textLength="27.90" lengthAdjust="spacingAndGlyphs" class="tr">N/C</text>
<text x="391.90" y="863.50" font-size="15.2" textLength="82.80" lengthAdjust="spacingAndGlyphs" class="tr">No Connect</text>
<text x="111.20" y="888.70" font-size="15.2" class="tr">6</text>
<text x="225.60" y="888.70" font-size="15.2" textLength="29.60" lengthAdjust="spacingAndGlyphs" class="tr">VDD</text>
<text x="383.10" y="888.70" font-size="15.2" textLength="102.60" lengthAdjust="spacingAndGlyphs" class="tr">VDD (+3.3Vdc)</text>
<text x="231.80" y="123.80" font-size="18.0" textLength="46.50" lengthAdjust="spacingAndGlyphs" class="ar">QT85</text>
<text x="230.80" y="147.70" font-size="18.0" textLength="51.80" lengthAdjust="spacingAndGlyphs" class="ar">FREQ.</text>
<text x="264.40" y="174.30" font-size="17.5" textLength="10.70" lengthAdjust="spacingAndGlyphs" class="ar">D</text>
<text x="289.60" y="174.30" font-size="17.5" textLength="11.30" lengthAdjust="spacingAndGlyphs" class="ar">C</text>
<text x="311.90" y="174.30" font-size="17.5" textLength="10.50" lengthAdjust="spacingAndGlyphs" class="ar">S</text>
<text x="335.40" y="174.30" font-size="17.5" textLength="12.10" lengthAdjust="spacingAndGlyphs" class="ar">N</text>
</svg>
</body></html>
